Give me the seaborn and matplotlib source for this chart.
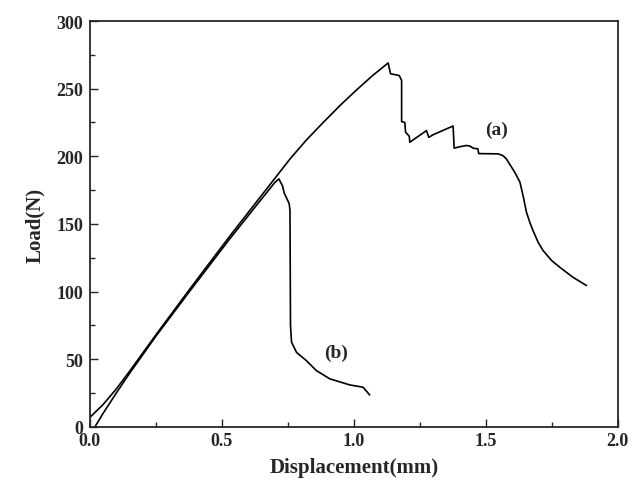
import numpy as np
import pandas as pd
import matplotlib
matplotlib.use("Agg")
import matplotlib.pyplot as plt
from matplotlib.ticker import MultipleLocator, FormatStrFormatter
import seaborn as sns

# --- data ---
disp_a = [0.0, 0.05, 0.1, 0.15, 0.25, 0.379, 0.53, 0.63, 0.72, 0.758,
          0.82, 0.884, 0.95, 1.01, 1.07, 1.13, 1.139, 1.172, 1.181, 1.181,
          1.193, 1.196, 1.21, 1.212, 1.275, 1.284, 1.301, 1.376, 1.38, 1.40,
          1.427, 1.44, 1.452, 1.47, 1.473, 1.547, 1.565, 1.578, 1.591, 1.61,
          1.629, 1.641, 1.654, 1.667, 1.679, 1.698, 1.717, 1.749, 1.78, 1.83,
          1.881]
load_a = [7, 16.5, 28, 41, 68, 102, 141, 166, 188.5, 198,
          212, 225, 238, 249, 259.5, 269, 261, 259.7, 256, 225.7,
          225, 217.8, 214.8, 210.4, 219, 214, 216, 222.4, 206, 207,
          208, 207.5, 206, 205.5, 202, 201.8, 200.5, 198, 194, 188,
          181, 171, 158.6, 151, 145, 136.5, 130.3, 123, 118, 110.6,
          104.5]

disp_b = [0.019, 0.05, 0.1, 0.15, 0.25, 0.379, 0.53, 0.63, 0.70, 0.716,
          0.73, 0.736, 0.755, 0.758, 0.760, 0.764, 0.783, 0.82, 0.858,
          0.909, 0.985, 1.035, 1.06]
load_b = [0, 10, 25, 39.5, 67, 100.5, 139, 163.5, 180.5, 183.3,
          178, 173, 165, 160, 75, 62.6, 55, 49, 41.6,
          35.5, 31, 29.3, 23.6]

df = pd.concat([
    pd.DataFrame({"disp": disp_a, "load": load_a, "curve": "a"}),
    pd.DataFrame({"disp": disp_b, "load": load_b, "curve": "b"}),
])

sns.set_style("ticks")
plt.rcParams["font.family"] = ["Liberation Serif", "DejaVu Serif"]
plt.rcParams["font.weight"] = "bold"

fig = plt.figure(figsize=(6.33, 4.89), dpi=100)
ax = fig.add_axes([0.142, 0.125, 0.834, 0.830])

sns.lineplot(data=df, x="disp", y="load", units="curve", estimator=None,
             sort=False, color="black", linewidth=1.2, ax=ax)

ax.text(1.54, 220, "(a)", fontsize=14, fontweight="bold", ha="center", va="center")
ax.text(0.934, 55, "(b)", fontsize=14, fontweight="bold", ha="center", va="center")

ax.set_xlim(0, 2.0)
ax.set_ylim(0, 300)
ax.xaxis.set_major_locator(MultipleLocator(0.5))
ax.xaxis.set_minor_locator(MultipleLocator(0.25))
ax.yaxis.set_major_locator(MultipleLocator(50))
ax.yaxis.set_minor_locator(MultipleLocator(25))
ax.xaxis.set_major_formatter(FormatStrFormatter("%.1f"))

ax.tick_params(which="major", direction="in", length=6, width=1.0, labelsize=13)
ax.tick_params(which="minor", direction="in", length=3.5, width=1.0)
ax.tick_params(axis="y", pad=5)
for lab in ax.get_xticklabels() + ax.get_yticklabels():
    lab.set_fontweight("bold")
for s in ax.spines.values():
    s.set_visible(True)
    s.set_linewidth(1.3)

ax.set_xlabel("Displacement(mm)", fontsize=15, fontweight="bold", labelpad=6)
ax.set_ylabel("Load(N)", fontsize=15, fontweight="bold", labelpad=8)

fig.savefig("out.png", dpi=100)
